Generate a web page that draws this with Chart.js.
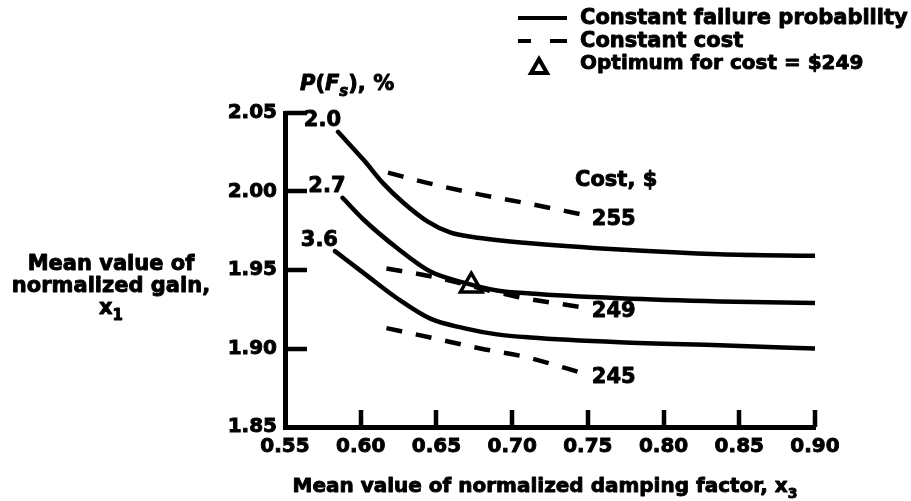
<!DOCTYPE html>
<html>
<head>
<meta charset="utf-8">
<script src="https://cdn.jsdelivr.net/npm/chart.js@4/dist/chart.umd.min.js"></script>
<style>
  html, body { margin: 0; padding: 0; background: #fff; }
  canvas { display: block; }
</style>
</head>
<body>
<canvas id="chart" width="911" height="501"></canvas>
<script>
// Failure probability / cost trade-off chart

// Axis ticks
const xTicks = [0.55, 0.60, 0.65, 0.70, 0.75, 0.80, 0.85, 0.90];
const yTicks = [1.85, 1.90, 1.95, 2.00, 2.05];

// Constant failure probability, P(Fs) in %
const probLabels = ['2.0', '2.7', '3.6'];
const prob20X = [0.585, 0.602, 0.615, 0.628, 0.644, 0.659, 0.674, 0.712, 0.771, 0.837, 0.900];
const prob20Y = [2.038, 2.020, 2.005, 1.993, 1.981, 1.974, 1.971, 1.967, 1.963, 1.960, 1.959];
const prob27X = [0.588, 0.602, 0.624, 0.646, 0.668, 0.690, 0.712, 0.771, 0.837, 0.900];
const prob27Y = [1.996, 1.982, 1.964, 1.949, 1.942, 1.937, 1.935, 1.932, 1.930, 1.929];
const prob36X = [0.583, 0.602, 0.624, 0.646, 0.668, 0.690, 0.712, 0.771, 0.837, 0.900];
const prob36Y = [1.962, 1.948, 1.932, 1.919, 1.913, 1.909, 1.907, 1.904, 1.902, 1.900];

// Constant cost, $
const costLabels = ['255', '249', '245'];
const cost255X = [0.618, 0.646, 0.679, 0.707, 0.748];
const cost255Y = [2.012, 2.005, 1.998, 1.993, 1.985];
const cost249X = [0.617, 0.646, 0.703, 0.748];
const cost249Y = [1.951, 1.946, 1.933, 1.926];
const cost245X = [0.617, 0.646, 0.679, 0.707, 0.748];
const cost245Y = [1.913, 1.907, 1.900, 1.895, 1.884];

// Optimum for cost = $249
const optimumX = [0.673];
const optimumY = [1.940];

const FONT = 'DejaVu Sans';
const STROKE = 0.9; // thickens text a little, like the printed original
const pts = (xs, ys) => xs.map((x, i) => ({ x, y: ys[i] }));

const solid = (data) => ({
	data,
	borderColor: '#000',
	borderWidth: 4.5,
	borderCapStyle: 'round',
	pointRadius: 0,
	cubicInterpolationMode: 'monotone',
	fill: false
});

const dashed = (data) => ({
	data,
	borderColor: '#000',
	borderWidth: 4.5,
	borderDash: [16, 14],
	borderCapStyle: 'butt',
	pointRadius: 0,
	cubicInterpolationMode: 'monotone',
	fill: false
});

const probSets = [pts(prob20X, prob20Y), pts(prob27X, prob27Y), pts(prob36X, prob36Y)];
const costSets = [pts(cost255X, cost255Y), pts(cost249X, cost249Y), pts(cost245X, cost245Y)];

const text = (ctx, t, x, y) => {
	ctx.fillText(t, x, y);
	ctx.strokeText(t, x, y);
};

// text with optional italic parts and subscripts
const drawRich = (ctx, parts, x, y, size) => {
	let cx = x;
	parts.forEach(p => {
		const s = p.sub ? Math.round(size * 0.7) : size;
		ctx.font = (p.it ? 'italic ' : '') + 'bold ' + s + 'px "' + FONT + '"';
		text(ctx, p.t, cx, y + (p.sub ? size * 0.3 : 0));
		cx += ctx.measureText(p.t).width;
	});
	return cx - x;
};

const richWidth = (ctx, parts, size) => {
	let w = 0;
	parts.forEach(p => {
		const s = p.sub ? Math.round(size * 0.7) : size;
		ctx.font = (p.it ? 'italic ' : '') + 'bold ' + s + 'px "' + FONT + '"';
		w += ctx.measureText(p.t).width;
	});
	return w;
};

// tick marks pointing into the plot, as in the original
const innerTicks = {
	id: 'innerTicks',
	afterDraw(chart) {
		const { ctx, chartArea: a, scales: { x, y } } = chart;
		ctx.save();
		ctx.setLineDash([]);
		ctx.strokeStyle = '#000';
		ctx.lineWidth = 4.5;
		ctx.lineCap = 'butt';
		ctx.beginPath();
		yTicks.slice(1).forEach(v => {
			const py = Math.round(y.getPixelForValue(v));
			ctx.moveTo(a.left, py);
			ctx.lineTo(a.left + 22, py);
		});
		xTicks.slice(1).forEach(v => {
			const px = Math.round(x.getPixelForValue(v));
			ctx.moveTo(px, a.bottom);
			ctx.lineTo(px, a.bottom - 17);
		});
		ctx.stroke();
		ctx.restore();
	}
};

const decorations = {
	id: 'decorations',
	afterDraw(chart) {
		const { ctx, chartArea: a, scales: { x, y } } = chart;
		ctx.save();
		ctx.setLineDash([]);
		ctx.strokeStyle = '#000';
		ctx.fillStyle = '#000';

		const size = 21;
		ctx.lineWidth = STROKE;
		ctx.lineJoin = 'round';
		ctx.textBaseline = 'middle';

		// probability curve labels
		ctx.font = 'bold ' + size + 'px "' + FONT + '"';
		ctx.textAlign = 'right';
		probSets.forEach((d, i) => {
			const px = x.getPixelForValue(d[0].x);
			const py = y.getPixelForValue(d[0].y);
			text(ctx, probLabels[i], px + 3, py - 11);
		});

		// cost curve labels
		ctx.textAlign = 'left';
		costSets.forEach((d, i) => {
			const last = d[d.length - 1];
			const px = x.getPixelForValue(last.x);
			const py = y.getPixelForValue(last.y);
			text(ctx, costLabels[i], px + 7, py + 4);
		});
		text(ctx, 'Cost, $', a.left + 290, a.top + 68);

		// P(Fs), %
		ctx.textBaseline = 'alphabetic';
		drawRich(ctx, [
			{ t: 'P', it: true }, { t: '(' }, { t: 'F', it: true },
			{ t: 's', it: true, sub: true }, { t: '), %' }
		], a.left + 15, a.top - 23, size);

		// y axis title
		const yt = [
			[{ t: 'Mean value of' }],
			[{ t: 'normalized gain,' }],
			[{ t: 'x' }, { t: '1', sub: true }]
		];
		[270, 292, 314].forEach((by, i) => {
			const w = richWidth(ctx, yt[i], size);
			drawRich(ctx, yt[i], 111 - w / 2, by, size);
		});

		// x axis title
		const xt = [{ t: 'Mean value of normalized damping factor, x' }, { t: '3', sub: true }];
		const xw = richWidth(ctx, xt, 20);
		drawRich(ctx, xt, 545 - xw / 2, 492, 20);

		// legend
		ctx.lineWidth = 4;
		ctx.lineCap = 'butt';
		ctx.beginPath();
		ctx.moveTo(518, 18);
		ctx.lineTo(567, 18);
		ctx.moveTo(518, 41);
		ctx.lineTo(531, 41);
		ctx.moveTo(550, 41);
		ctx.lineTo(567, 41);
		ctx.stroke();
		ctx.beginPath();
		ctx.moveTo(539, 59);
		ctx.lineTo(547, 73);
		ctx.lineTo(531, 73);
		ctx.closePath();
		ctx.fillStyle = '#fff';
		ctx.fill();
		ctx.lineJoin = 'miter';
		ctx.stroke();
		ctx.fillStyle = '#000';
		ctx.lineWidth = STROKE;
		ctx.lineJoin = 'round';
		ctx.font = 'bold ' + size + 'px "' + FONT + '"';
		ctx.textBaseline = 'middle';
		text(ctx, 'Constant failure probability', 580, 19);
		text(ctx, 'Constant cost', 580, 42);
		ctx.font = 'bold 20px "' + FONT + '"';
		text(ctx, 'Optimum for cost = $249', 580, 64);

		ctx.restore();
	}
};

Chart.defaults.font.family = FONT;
Chart.defaults.font.weight = 'bold';
Chart.defaults.color = '#000';

const tickOpts = {
	padding: 8,
	font: { size: 20, weight: 'bold' },
	textStrokeColor: '#000',
	textStrokeWidth: STROKE,
	callback: v => v.toFixed(2)
};

new Chart(document.getElementById('chart'), {
	type: 'line',
	data: {
		datasets: [
			...probSets.map(solid),
			...costSets.map(dashed),
			{
				data: pts(optimumX, optimumY),
				showLine: false,
				pointStyle: 'triangle',
				pointRadius: 12.5,
				pointBorderWidth: 3.5,
				pointBorderColor: '#000',
				pointBackgroundColor: '#fff'
			}
		]
	},
	options: {
		responsive: false,
		animation: false,
		events: [],
		layout: { padding: { left: 0, right: 96, top: 113, bottom: 0 } },
		plugins: { legend: { display: false }, tooltip: { enabled: false } },
		scales: {
			x: {
				type: 'linear',
				min: 0.55,
				max: 0.90,
				afterBuildTicks: s => { s.ticks = xTicks.map(value => ({ value })); },
				afterFit: s => { s.height = 74; },
				ticks: { ...tickOpts, autoSkip: false, maxRotation: 0 },
				grid: { display: false, drawTicks: false },
				border: { display: true, width: 5, color: '#000' }
			},
			y: {
				type: 'linear',
				min: 1.85,
				max: 2.05,
				afterBuildTicks: s => { s.ticks = yTicks.map(value => ({ value })); },
				afterFit: s => { s.width = 285; },
				ticks: tickOpts,
				grid: { display: false, drawTicks: false },
				border: { display: true, width: 5, color: '#000' }
			}
		}
	},
	plugins: [innerTicks, decorations]
});
</script>
</body>
</html>
